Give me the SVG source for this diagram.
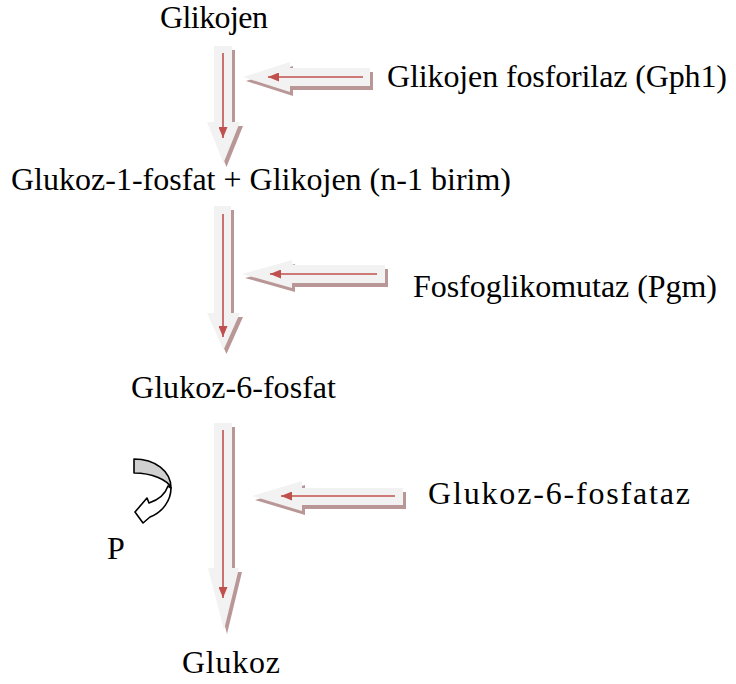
<svg xmlns="http://www.w3.org/2000/svg" width="736" height="684" viewBox="0 0 736 684">
  <style>
    .lbl { font-family: "Liberation Serif", "Times New Roman", serif; font-size: 32px; fill: #000; }
    .blk { fill: #f2f2f2; }
    .shd { fill: #b99797; }
    .rxn { stroke: #c0504d; stroke-width: 1.6; fill: none; marker-end: url(#tip); }
  </style>
  <defs>
    <marker id="tip" markerUnits="userSpaceOnUse" markerWidth="12" markerHeight="9" refX="11" refY="4.5" orient="auto">
      <path d="M0,0 L11,4.5 L0,9 Z" fill="#c0504d"/>
    </marker>
    <!-- block arrow outlines, reused for the shadow and the face -->
    <polygon id="v1" points="214,46 232,46 232,122 240,122 223.5,163 207,122 214,122"/>
    <polygon id="v2" points="214,206 231,206 231,313 240,313 223.5,350 207,313 214,313"/>
    <polygon id="v3" points="214,423 232,423 232,568 239,568 224,630 208,568 214,568"/>
    <polygon id="h1" points="243,77 290,62 290,68 370,68 370,86 290,86 290,92"/>
    <polygon id="h2" points="242,274 292,260 292,265 385,265 385,283 292,283 292,288"/>
    <polygon id="h3" points="252,496 302,481 302,488 403,488 403,505 302,505 302,511"/>
  </defs>

  <g id="connectors">
    <g class="shd" transform="translate(3,4)">
      <use href="#v1"/><use href="#v2"/><use href="#v3"/>
      <use href="#h1"/><use href="#h2"/><use href="#h3"/>
    </g>
    <g class="blk">
      <use href="#v1"/><use href="#v2"/><use href="#v3"/>
      <use href="#h1"/><use href="#h2"/><use href="#h3"/>
    </g>
    <line class="rxn" x1="223" y1="53" x2="223" y2="138"/>
    <line class="rxn" x1="223" y1="214" x2="223" y2="337"/>
    <line class="rxn" x1="223" y1="430" x2="223" y2="598"/>
    <line class="rxn" x1="363" y1="77" x2="268" y2="77"/>
    <line class="rxn" x1="377" y1="274" x2="270" y2="274"/>
    <line class="rxn" x1="395" y1="496" x2="281" y2="496"/>
  </g>

  <g id="glikojen"><text class="lbl" x="160" y="28" font-size="31" textLength="108" lengthAdjust="spacing">Glikojen</text></g>
  <g id="gph1"><text class="lbl" x="387" y="87" textLength="340" lengthAdjust="spacing">Glikojen fosforilaz (Gph1)</text></g>
  <g id="glukoz-1-fosfat"><text class="lbl" x="11" y="190" textLength="500" lengthAdjust="spacing">Glukoz-1-fosfat + Glikojen (n-1 birim)</text></g>
  <g id="pgm"><text class="lbl" x="413" y="297" textLength="304" lengthAdjust="spacing">Fosfoglikomutaz (Pgm)</text></g>
  <g id="glukoz-6-fosfat"><text class="lbl" x="131" y="398" textLength="205" lengthAdjust="spacing">Glukoz-6-fosfat</text></g>
  <g id="fosfataz"><text class="lbl" x="428" y="504" font-size="33.5" textLength="262" lengthAdjust="spacing">Glukoz-6-fosfataz</text></g>
  <g id="glukoz"><text class="lbl" x="182" y="673" textLength="98" lengthAdjust="spacing">Glukoz</text></g>

  <!-- phosphate release: curved block arrow -->
  <g id="fosfat" stroke="#000" stroke-width="1.6" stroke-linejoin="round">
    <path d="M168,486 C165,495 158,500 149,503 L147,498 L135,512 L143,523 L150,517 C163,512 171,500 171,488 Z" fill="#fff"/>
    <path d="M134,459 C155,459 171,471 171,488 C168,480 152,473 134,473 Z" fill="#d0d0d0"/>
    <text class="lbl" x="107" y="559" stroke="none">P</text>
  </g>
</svg>
